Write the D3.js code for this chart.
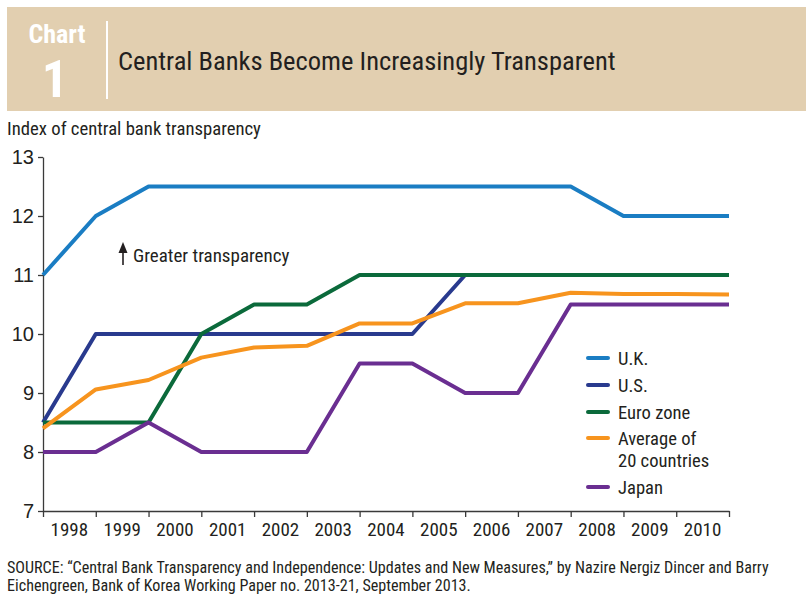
<!DOCTYPE html>
<html>
<head>
<meta charset="utf-8">
<script src="https://cdn.jsdelivr.net/npm/d3@7"></script>
<style>
  body { margin: 0; background: #fff; }
  svg { display: block; font-family: "Liberation Sans Narrow", "Roboto Condensed", "DejaVu Sans Condensed", sans-serif; }
</style>
</head>
<body>
<svg width="806" height="595"></svg>
<script>
// years shown on the x axis, values are read at the year boundaries
const years = [1998, 1999, 2000, 2001, 2002, 2003, 2004, 2005, 2006, 2007, 2008, 2009, 2010];
const yTicks = [7, 8, 9, 10, 11, 12, 13];

const uk    = [11, 12, 12.5, 12.5, 12.5, 12.5, 12.5, 12.5, 12.5, 12.5, 12.5, 12, 12, 12];
const us    = [8.5, 10, 10, 10, 10, 10, 10, 10, 11, 11, 11, 11, 11, 11];
const euro  = [8.5, 8.5, 8.5, 10, 10.5, 10.5, 11, 11, 11, 11, 11, 11, 11, 11];
const avg20 = [8.4, 9.06, 9.22, 9.6, 9.77, 9.8, 10.18, 10.18, 10.52, 10.52, 10.7, 10.68, 10.68, 10.67];
const japan = [8, 8, 8.5, 8, 8, 8, 9.5, 9.5, 9, 9, 10.5, 10.5, 10.5, 10.5];

const seriesNames = ['U.K.', 'U.S.', 'Euro zone', 'Average of|20 countries', 'Japan'];
const seriesColors = ['#1a7dc3', '#293a8e', '#0b6a3b', '#f7941e', '#6a2e91'];
const allSeries = [uk, us, euro, avg20, japan];

const svg = d3.select('svg');

// header band
svg.append('rect')
    .attr('x', 7).attr('y', 7)
    .attr('width', 799).attr('height', 104)
    .attr('fill', '#e2cfb0');

svg.append('text')
    .attr('x', 57).attr('y', 43)
    .attr('text-anchor', 'middle')
    .attr('fill', '#fff')
    .attr('font-weight', 'bold')
    .attr('font-size', 26)
    .text('Chart');

svg.append('text')
    .attr('x', 55).attr('y', 97)
    .attr('text-anchor', 'middle')
    .attr('fill', '#fff')
    .attr('font-weight', 'bold')
    .attr('font-size', 52)
    .text('1');

svg.append('line')
    .attr('x1', 107).attr('x2', 107)
    .attr('y1', 21).attr('y2', 99)
    .attr('stroke', '#fff')
    .attr('stroke-width', 2);

svg.append('text')
    .attr('x', 118).attr('y', 70)
    .attr('fill', '#231f20')
    .attr('font-size', 26.5)
    .text('Central Banks Become Increasingly Transparent');

svg.append('text')
    .attr('x', 7).attr('y', 135)
    .attr('fill', '#231f20')
    .attr('font-size', 18.7)
    .text('Index of central bank transparency');

// plot
const x = d3.scaleLinear()
    .domain([0, years.length])
    .range([43, 729]);

const y = d3.scaleLinear()
    .domain([7, 13])
    .range([511, 157]);

const yAxis = svg.append('g')
    .attr('transform', 'translate(43, 0)')
    .call(d3.axisLeft(y).tickValues(yTicks).tickFormat(d3.format('d')).tickSize(5).tickSizeOuter(0).tickPadding(4));

const xAxis = svg.append('g')
    .attr('transform', 'translate(0, 511)')
    .call(d3.axisBottom(x).tickValues(d3.range(0, years.length + 1)).tickFormat('').tickSize(6).tickSizeOuter(0));

[yAxis, xAxis].forEach(a => {
    a.select('.domain').attr('stroke', '#3a3a3a').attr('stroke-width', 1.3);
    a.selectAll('.tick line').attr('stroke', '#3a3a3a').attr('stroke-width', 1.3);
});
yAxis.selectAll('.tick text')
    .attr('font-family', null)
    .attr('font-size', 20)
    .attr('fill', '#231f20');

svg.append('g')
    .selectAll('text')
    .data(years)
    .enter()
    .append('text')
    .attr('x', (d, i) => x(i + 0.5))
    .attr('y', 536)
    .attr('text-anchor', 'middle')
    .attr('font-size', 19)
    .attr('fill', '#231f20')
    .text(d => d);

const line = d3.line()
    .x((d, i) => x(i))
    .y(d => y(d));

svg.append('g')
    .selectAll('path')
    .data(allSeries)
    .enter()
    .append('path')
    .attr('d', line)
    .attr('fill', 'none')
    .attr('stroke', (d, i) => seriesColors[i])
    .attr('stroke-width', 4)
    .attr('stroke-linejoin', 'round');

// annotation
svg.append('path')
    .attr('d', 'M123,265 L123,250')
    .attr('stroke', '#231f20')
    .attr('stroke-width', 1.6);
svg.append('path')
    .attr('d', 'M118.5,253 L123,242 L127.5,253 Z')
    .attr('fill', '#231f20');
svg.append('text')
    .attr('x', 133).attr('y', 262)
    .attr('font-size', 19)
    .attr('fill', '#231f20')
    .text('Greater transparency');

// legend
const legendY = [358, 385, 412, 438, 487];
const legend = svg.append('g')
    .selectAll('g')
    .data(seriesNames)
    .enter()
    .append('g')
    .attr('transform', (d, i) => `translate(588, ${legendY[i]})`);

legend.append('line')
    .attr('x1', 0).attr('x2', 20)
    .attr('stroke', (d, i) => seriesColors[i])
    .attr('stroke-width', 4)
    .attr('stroke-linecap', 'round');

legend.append('text')
    .attr('x', 30)
    .attr('y', 7)
    .attr('font-size', 18.6)
    .attr('fill', '#231f20')
    .each(function(d) {
        const parts = d.split('|');
        d3.select(this).selectAll('tspan')
            .data(parts)
            .enter()
            .append('tspan')
            .attr('x', 30)
            .attr('dy', (p, j) => j === 0 ? 0 : 22)
            .text(p => p);
    });

// source
const source = svg.append('text')
    .attr('font-size', 16.1)
    .attr('fill', '#231f20');
source.append('tspan').attr('x', 7).attr('y', 573)
    .text('SOURCE: \u201cCentral Bank Transparency and Independence: Updates and New Measures,\u201d by Nazire Nergiz Dincer and Barry');
source.append('tspan').attr('x', 7).attr('y', 590.5)
    .text('Eichengreen, Bank of Korea Working Paper no. 2013-21, September 2013.');
</script>
</body>
</html>
